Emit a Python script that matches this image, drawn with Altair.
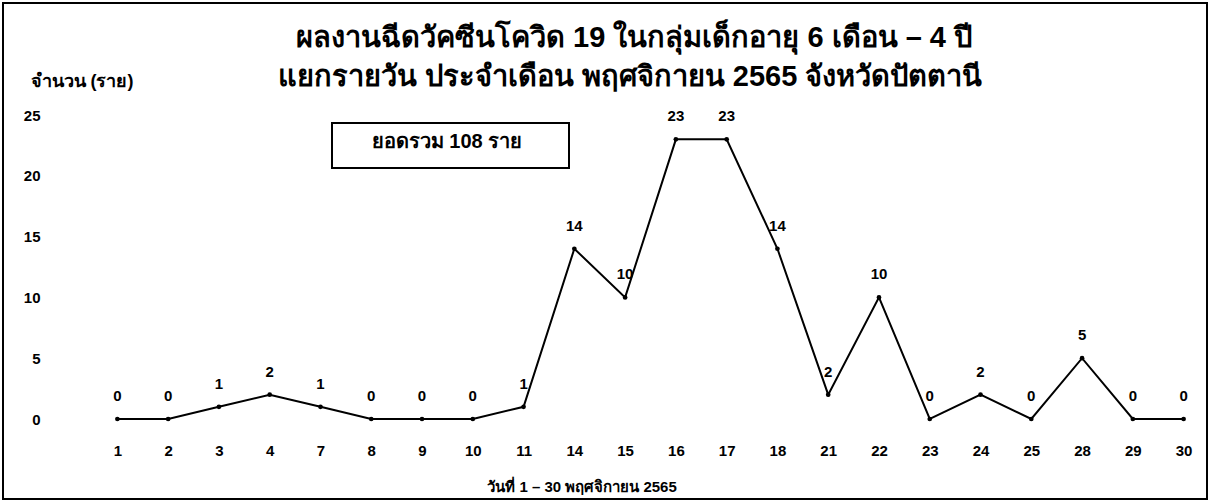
import altair as alt
import pandas as pd

days = ["1", "2", "3", "4", "7", "8", "9", "10", "11", "14", "15", "16", "17", "18",
        "21", "22", "23", "24", "25", "28", "29", "30"]
counts = [0, 0, 1, 2, 1, 0, 0, 0, 1, 14, 10, 23, 23, 14, 2, 10, 0, 2, 0, 5, 0, 0]
title_lines = ["ผลงานฉีดวัคซีนโควิด 19 ในกลุ่มเด็กอายุ 6 เดือน – 4 ปี",
               "แยกรายวัน ประจำเดือน พฤศจิกายน 2565 จังหวัดปัตตานี"]
y_title = "จำนวน (ราย)"
x_title = "วันที่ 1 – 30 พฤศจิกายน 2565"
y_ticks = [0, 5, 10, 15, 20, 25]

df = pd.DataFrame({"day": days, "count": counts})
total = sum(counts)

FONT = "Liberation Sans, Arial, sans-serif"
L, T = 92, 115
W, H = 1117, 304

x_enc = alt.X("day:O", sort=days,
              scale=alt.Scale(type="point", padding=0.5),
              axis=alt.Axis(title=None, labelAngle=0, ticks=False, domain=False,
                            labelPadding=24, labelFontSize=15, labelFontWeight="bold",
                            labelFont=FONT, labelColor="black"))
y_enc = alt.Y("count:Q", scale=alt.Scale(domain=[0, 25], nice=False),
              axis=alt.Axis(values=y_ticks, title=y_title, grid=False, ticks=False,
                            domain=False, labelAlign="right", labelPadding=52,
                            labelFontSize=15, labelFontWeight="bold", labelFont=FONT,
                            labelColor="black", titleAngle=0, titleAlign="left",
                            titleBaseline="middle", titleX=-62, titleY=-34,
                            titleFont=FONT, titleFontSize=18, titleFontWeight="bold",
                            titleColor="black"))

base = alt.Chart(df)
line = base.mark_line(color="black", strokeWidth=2).encode(x=x_enc, y=y_enc)
pts = base.mark_point(filled=True, color="black", size=22, opacity=1).encode(x=x_enc, y=y_enc)
labels = base.mark_text(dy=-23, fontSize=15, fontWeight="bold", font=FONT,
                        color="black", baseline="middle").encode(
    x=x_enc, y=y_enc, text="count:Q")

one = pd.DataFrame({"a": [0]})
frame = alt.Chart(one).mark_rect(
    fill=None, stroke="black", strokeWidth=2).encode(
    x=alt.value(3 - L), x2=alt.value(1207 - L), y=alt.value(3 - T), y2=alt.value(499 - T))

box = alt.Chart(one).mark_rect(
    fill="white", stroke="black", strokeWidth=2).encode(
    x=alt.value(332 - L), x2=alt.value(569 - L), y=alt.value(123 - T), y2=alt.value(168 - T))
box_text = alt.Chart(pd.DataFrame({"t": [f"ยอดรวม {total} ราย"]})).mark_text(
    fontSize=20, fontWeight="bold", font=FONT, color="black", baseline="middle").encode(
    x=alt.value(447 - L), y=alt.value(142 - T), text="t:N")

t1 = alt.Chart(pd.DataFrame({"t": [title_lines[0]]})).mark_text(
    fontSize=29, fontWeight="bold", font=FONT, color="black", baseline="middle").encode(
    x=alt.value(634 - L), y=alt.value(38 - T), text="t:N")
t2 = alt.Chart(pd.DataFrame({"t": [title_lines[1]]})).mark_text(
    fontSize=29, fontWeight="bold", font=FONT, color="black", baseline="middle").encode(
    x=alt.value(630 - L), y=alt.value(77 - T), text="t:N")
xt = alt.Chart(pd.DataFrame({"t": [x_title]})).mark_text(
    fontSize=15, fontWeight="bold", font=FONT, color="black", baseline="middle").encode(
    x=alt.value(582 - L), y=alt.value(487 - T), text="t:N")

chart = alt.layer(frame, box, box_text, t1, t2, xt, line, pts, labels).properties(
    width=W, height=H,
    autosize=alt.AutoSizeParams(type="none"),
    padding={"left": L, "top": T, "right": 2, "bottom": 84},
).configure(background="white").configure_view(strokeWidth=0, stroke="white")

chart.save("out.html", embed_options={"renderer": "svg", "actions": False})
